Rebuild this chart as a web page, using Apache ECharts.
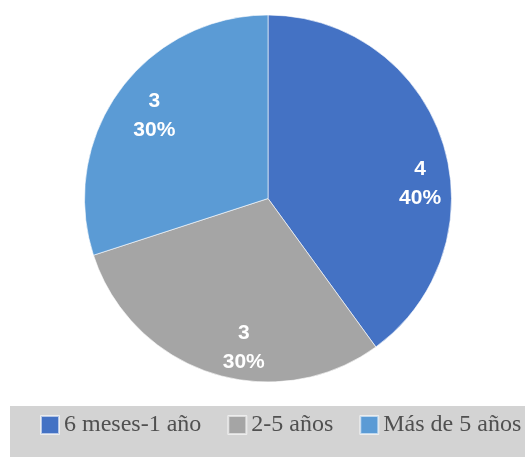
<!DOCTYPE html>
<html>
<head>
<meta charset="utf-8">
<script src="https://cdn.jsdelivr.net/npm/echarts@6/dist/echarts.min.js"></script>
<style>
  html, body { margin: 0; padding: 0; background: #fff; }
  #chart { width: 525px; height: 457px; }
</style>
</head>
<body>
<div id="chart"></div>
<script>
var categories = ['6 meses-1 año', '2-5 años', 'Más de 5 años']
var values = [4, 3, 3]
var colors = ['#4472C4', '#A5A5A5', '#5B9BD5']
// nudges the inside labels to where Excel put them
var labelNudge = [[62, 14], [5, 59], [-37, -27]]

var chart = echarts.init(document.getElementById('chart'), null, {renderer: 'canvas'})

var pieData = categories.map(function (name, i) {
    return {
        name: name,
        value: values[i],
        itemStyle: { color: colors[i] },
        label: { offset: labelNudge[i] }
    }
})

chart.setOption({
    animation: false,
    legend: {
        left: 10,
        top: 406,
        width: 800,
        padding: [7, 30, 26, 30],
        backgroundColor: '#d3d3d3',
        itemWidth: 18,
        itemHeight: 18,
        itemGap: 26,
        icon: 'rect',
        data: categories,
        textStyle: {
            fontFamily: 'Liberation Serif',
            fontSize: 24,
            color: '#505050'
        }
    },
    series: [{
        type: 'pie',
        center: [268, 198.5],
        radius: [0, 183.5],
        startAngle: 90,
        clockwise: true,
        data: pieData,
        itemStyle: { borderColor: 'rgba(255,255,255,0.6)', borderWidth: 1 },
        label: {
            position: 'inside',
            formatter: function (p) { return p.value + '\n' + Math.round(p.percent) + '%' },
            color: '#fff',
            fontFamily: 'Liberation Sans',
            fontWeight: 'bold',
            fontSize: 21,
            lineHeight: 29
        },
        labelLine: { show: false }
    }]
})
</script>
</body>
</html>
